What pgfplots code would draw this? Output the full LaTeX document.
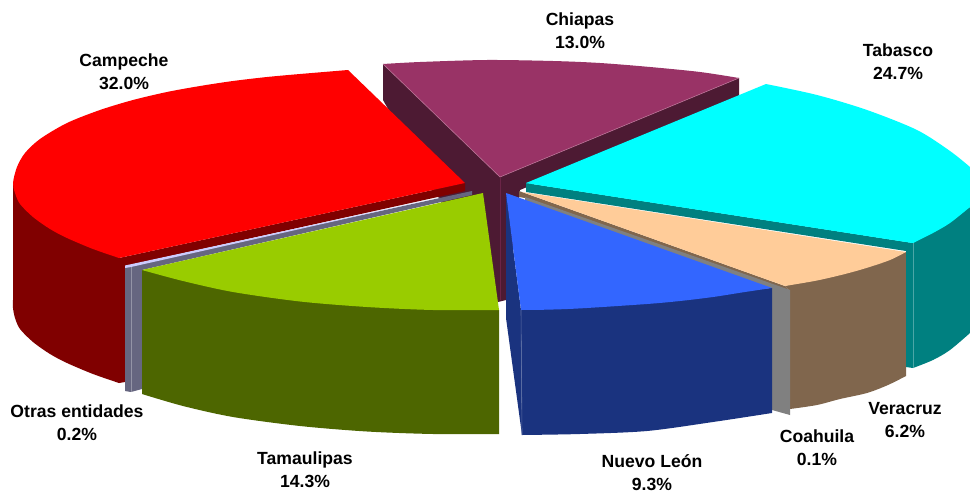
\documentclass[border=0pt]{standalone}
\usepackage{fontspec}
\setmainfont{Liberation Sans}
\usepackage{pgfplots}
\pgfplotsset{compat=1.18}
\definecolor{cr}{HTML}{FF0000}\definecolor{crd}{HTML}{800000}
\definecolor{cc}{HTML}{993366}\definecolor{ccd}{HTML}{4D1A33}
\definecolor{ct}{HTML}{00FFFF}\definecolor{ctd}{HTML}{008080}
\definecolor{cv}{HTML}{FFCC99}\definecolor{cvd}{HTML}{80664D}
\definecolor{cg}{HTML}{808080}
\definecolor{cn}{HTML}{3366FF}\definecolor{cnd}{HTML}{1A337F}
\definecolor{cm}{HTML}{99CC00}\definecolor{cmd}{HTML}{4D6600}
\definecolor{co}{HTML}{CCCCFF}\definecolor{cod}{HTML}{666680}
\tikzset{lab/.style={font=\fontsize{17.6}{23}\selectfont\bfseries,align=center,text=black,inner sep=0pt}}
\begin{document}
\begin{tikzpicture}
\path[use as bounding box] (0,0) rectangle (970pt,498pt);
\begin{axis}[at={(0,0)},anchor=south west,scale only axis,width=970pt,height=498pt,xmin=0,xmax=970,ymin=0,ymax=498,y dir=reverse,hide axis,clip=true,no markers,every axis plot/.append style={draw=none,line width=0pt}]
% Chiapas
\addplot[fill=ccd] coordinates {(383,64)(500,177)(739,78)(739,96)(520,190)(506,300)(498,302)(383,100)} -- cycle;
\addplot[fill=cc,smooth] coordinates {(383,64)(420,62)(487,60)(553,61)(600,63)(650,67)(700,72)(739,78)} -- (axis cs:500,177) -- cycle;
% Campeche
\addplot[fill=crd,smooth] coordinates {(13,300)(13,308)(15,318)(20,329)(33,342)(50,354)(67,363)(93,374)(119,383)} -- (axis cs:119,258) -- (axis cs:13,183) -- cycle;
\addplot[fill=crd] coordinates {(119,258)(465,183)(465,191)(125,266)(125,382)(119,383)} -- cycle;
\addplot[fill=cr,smooth] coordinates {(119,258)(93,249)(67,238)(50,229)(33,217)(20,204)(15,193)(13,183)(17,167)(25,153)(40,139)(67,123)(100,110)(133,100)(167,92)(200,86)(233,81)(267,77)(300,74)(348,70)} -- (axis cs:465,183) -- cycle;
% Otras entidades
\addplot[fill=cod] coordinates {(125,266.5)(472,191)(472,195)(142,270)(142,389)(131,392)(125,391)} -- cycle;
\addplot[fill=co] coordinates {(125,265.5)(440,197.5)(131,267)(125,268)} -- cycle;
% Tamaulipas
\addplot[fill=cmd,smooth] coordinates {(142,394)(183,406)(233,417)(300,426)(367,431.5)(433,434)(499,434)} -- (axis cs:499,310) -- (axis cs:142,270) -- cycle;
\addplot[fill=cm,smooth] coordinates {(142,270)(183,281)(233,292)(300,301.5)(367,307)(433,310)(499,310)} -- (axis cs:483,193) -- cycle;
% Veracruz
\addplot[fill=cvd] coordinates {(519,191)(785,286)(790,291)(525,198)(519,197)} -- cycle;
\addplot[fill=cvd,smooth] coordinates {(790,409)(817,405)(840,399)(867,393)(888,385)(906,376)} -- (axis cs:906,252) -- (axis cs:785,286) -- (axis cs:790,291) -- cycle;
\addplot[fill=cv,smooth] coordinates {(785,286)(817,280.5)(845,274)(867,267.8)(890,260)(906,252)} -- (axis cs:522,192) -- cycle;
% Coahuila
\addplot[fill=cg] coordinates {(525,197)(790,290)(790,415)(772,410)(772,290)(525,202)} -- cycle;
% Nuevo Leon
\addplot[fill=cnd] coordinates {(506,193)(521,310)(522,435)(506,318)} -- cycle;
\addplot[fill=cnd,smooth] coordinates {(522,435)(580,434)(647,431)(713,422)(772,413)} -- (axis cs:772,288) -- (axis cs:521,310) -- cycle;
\addplot[fill=cn,smooth] coordinates {(521,310)(546,309.7)(580,308.4)(647,304)(680,301)(713,297)(745,292)(772,288)} -- (axis cs:506,193) -- cycle;
% Tabasco
\addplot[fill=ctd] coordinates {(526,183)(913,243)(913,368)(906,367)(906,251)(526,192)} -- cycle;
\addplot[fill=ctd,smooth] coordinates {(913,368)(933,360)(950,350)(970,333)} -- (axis cs:970,207) -- (axis cs:913,243) -- cycle;
\addplot[fill=ct,smooth] coordinates {(913,243)(933,233)(950,223)(970,207)} -- (axis cs:526,183) -- cycle;
\addplot[fill=ct,smooth] coordinates {(766,84)(817,95)(867,110)(917,130)(950,151)(970,167)} -- (axis cs:970,207) -- (axis cs:913,243) -- (axis cs:526,183) -- cycle;
% edge highlights
\addplot[draw=cc!70!white,line width=0.6pt] coordinates {(383,64)(500,177)(739,78)};
\addplot[draw=cc!70!black,line width=0.6pt] coordinates {(500,177)(500,300)};
\addplot[draw=ctd!70!white,line width=0.6pt] coordinates {(913,243)(913,368)};
\addplot[draw=cnd!70!white,line width=0.6pt] coordinates {(521,310)(522,435)};
\addplot[draw=cod!70!white,line width=0.5pt] coordinates {(131,267)(131,392)};
\node[lab] at (axis cs:124,72) {Campeche\\32.0\%};
\node[lab] at (axis cs:580,30.5) {Chiapas\\13.0\%};
\node[lab] at (axis cs:898,61.5) {Tabasco\\24.7\%};
\node[lab] at (axis cs:905,420) {Veracruz\\6.2\%};
\node[lab] at (axis cs:817,447.5) {Coahuila\\0.1\%};
\node[lab] at (axis cs:652,472.5) {Nuevo León\\9.3\%};
\node[lab] at (axis cs:305,469.5) {Tamaulipas\\14.3\%};
\node[lab] at (axis cs:77,422.5) {Otras entidades\\0.2\%};
\end{axis}
\end{tikzpicture}
\end{document}
